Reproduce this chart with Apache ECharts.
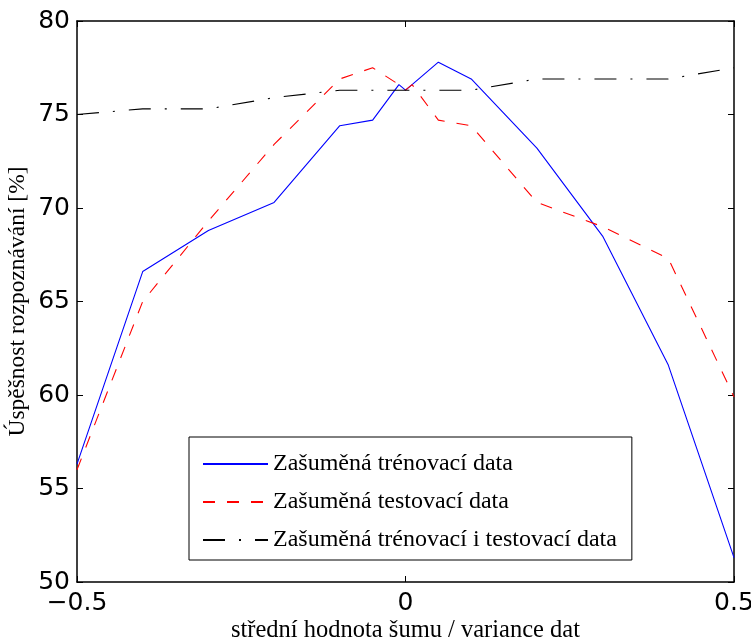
<!DOCTYPE html>
<html>
<head>
<meta charset="utf-8">
<script src="https://cdn.jsdelivr.net/npm/echarts@6/dist/echarts.min.js"></script>
<style>
html,body{margin:0;padding:0;background:#fff;}
#chart{width:751px;height:639px;}
</style>
</head>
<body>
<div id="chart"></div>
<script>
var xValues = [-0.5, -0.4, -0.3, -0.2, -0.1, -0.05, -0.01, 0, 0.01, 0.05, 0.1, 0.2, 0.3, 0.4, 0.5];
var trainNoisy = [56.3, 66.6, 68.8, 70.3, 74.4, 74.7, 76.6, 76.3, 76.6, 77.8, 76.9, 73.2, 68.5, 61.6, 51.3];
var testNoisy  = [56.0, 65.0, 69.3, 73.4, 76.9, 77.5, 76.6, 76.3, 76.6, 74.7, 74.4, 70.3, 69.0, 67.3, 59.9];
var bothNoisy  = [75.0, 75.3, 75.3, 75.9, 76.3, 76.3, 76.3, 76.3, 76.3, 76.3, 76.3, 76.9, 76.9, 76.9, 77.5];
var seriesNames = ['Zašuměná trénovací data', 'Zašuměná testovací data', 'Zašuměná trénovací i testovací data'];
var xTicks = [-0.5, 0, 0.5];
var yTicks = [50, 55, 60, 65, 70, 75, 80];
var xTitle = 'střední hodnota šumu / variance dat';
var yTitle = 'Úspěšnost rozpoznávání [%]';

function pairs(vals){ return xValues.map(function(x,i){ return [x, vals[i]]; }); }

var serif = 'Liberation Serif';
var sans = 'DejaVu Sans';

var chart = echarts.init(document.getElementById('chart'), null, {renderer:'canvas'});
var axisLineStyle = {color:'#000', width:1.5};
chart.setOption({
  animation:false,
  backgroundColor:'#fff',
  grid:{left:77, right:17, top:21, bottom:57, containLabel:false, outerBoundsMode:'none'},
  legend:{
    orient:'vertical', left:189, top:437,
    backgroundColor:'#fff', borderColor:'#000', borderWidth:1,
    padding:[15,15,8,13], itemGap:14, itemWidth:65, itemHeight:14,
    itemStyle:{opacity:0},
    textStyle:{fontFamily:serif, fontSize:24, color:'#000'},
    data: seriesNames
  },
  xAxis:[{
    type:'value', min:-0.5, max:0.5, interval:0.5, position:'bottom',
    name:xTitle, nameLocation:'middle', nameGap:36, nameMoveOverlap:false,
    nameTextStyle:{fontFamily:serif, fontSize:24.5, color:'#000'},
    axisLine:{show:true, onZero:false, lineStyle:axisLineStyle},
    axisTick:{show:true, inside:true, length:6, lineStyle:{color:'#000', width:1}},
    axisLabel:{fontFamily:sans, fontSize:25, color:'#000', margin:9,
      formatter:function(v){ return v < 0 ? '\u2212' + Math.abs(v) : String(v); }},
    splitLine:{show:false}
  },{
    type:'value', min:-0.5, max:0.5, interval:0.5, position:'top',
    axisLine:{show:true, onZero:false, lineStyle:axisLineStyle},
    axisTick:{show:true, inside:true, length:6, lineStyle:{color:'#000', width:1}},
    axisLabel:{show:false}, splitLine:{show:false}
  }],
  yAxis:[{
    type:'value', min:50, max:80, interval:5, position:'left',
    name:yTitle, nameLocation:'middle', nameGap:47, nameRotate:90, nameMoveOverlap:false,
    nameTextStyle:{fontFamily:serif, fontSize:23.5, color:'#000'},
    axisLine:{show:true, onZero:false, lineStyle:axisLineStyle},
    axisTick:{show:true, inside:true, length:6, lineStyle:{color:'#000', width:1}},
    axisLabel:{fontFamily:sans, fontSize:25, color:'#000', margin:7},
    splitLine:{show:false}
  },{
    type:'value', min:50, max:80, interval:5, position:'right',
    axisLine:{show:true, onZero:false, lineStyle:axisLineStyle},
    axisTick:{show:true, inside:true, length:6, lineStyle:{color:'#000', width:1}},
    axisLabel:{show:false}, splitLine:{show:false}
  }],
  series:[
    {name:seriesNames[0], type:'line', data:pairs(trainNoisy), symbol:'none',
     lineStyle:{color:'#0000ff', width:1.1, type:'solid'}, itemStyle:{color:'#0000ff'}},
    {name:seriesNames[1], type:'line', data:pairs(testNoisy), symbol:'none',
     lineStyle:{color:'#ff0000', width:1.1, type:[12,12]}, itemStyle:{color:'#ff0000'}},
    {name:seriesNames[2], type:'line', data:pairs(bothNoisy), symbol:'none',
     lineStyle:{color:'#000', width:1.1, type:[22,14,2,14]}, itemStyle:{color:'#000'}}
  ]
});
</script>
</body>
</html>
